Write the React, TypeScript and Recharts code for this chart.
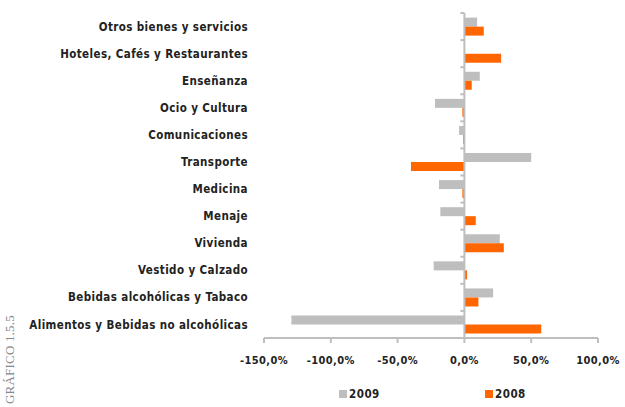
import { Bar, BarChart, Legend, ReferenceLine, XAxis, YAxis } from 'recharts'

const categories = [
  'Otros bienes  y servicios',
  'Hoteles, Cafés  y  Restaurantes',
  'Enseñanza',
  'Ocio y Cultura',
  'Comunicaciones',
  'Transporte',
  'Medicina',
  'Menaje',
  'Vivienda',
  'Vestido y  Calzado',
  'Bebidas alcohólicas y Tabaco',
  'Alimentos y Bebidas  no alcohólicas',
]

const values2009 = [9.5, 0, 11.5, -22, -4, 50, -19, -18, 26.5, -23, 21.5, -129.5]
const values2008 = [14.5, 27.5, 5.5, -1.5, -1, -40, -1.5, 8.5, 29.5, 2, 10.5, 57.5]

const xTicks = [-150, -100, -50, 0, 50, 100]

const GRAY = '#bebebe'
const ORANGE = '#ff6600'
const FONT = '"DejaVu Sans Condensed", "DejaVu Sans", sans-serif'

const data = categories.map((name, i) => ({
  name,
  y2009: values2009[i],
  y2008: values2008[i],
}))

const fmtPct = (v: number) => v.toFixed(1).replace('.', ',') + '%'

// zero line with the little category ticks on its left side
function ZeroLine(props: any) {
  const { x1, y1, x2, y2 } = props
  const n = categories.length
  const marks = []
  for (let i = 0; i <= n; i++) {
    const y = y1 + ((y2 - y1) * i) / n
    marks.push(<line key={i} x1={x1 - 4} x2={x1} y1={y} y2={y} stroke={GRAY} strokeWidth={2} />)
  }
  return (
    <g>
      <line x1={x1} y1={y1} x2={x2} y2={y2} stroke={GRAY} strokeWidth={2} />
      {marks}
    </g>
  )
}

function LegendBox() {
  const item = (left: number, color: string, label: string) => (
    <div style={{ position: 'absolute', left, top: 7, display: 'flex', alignItems: 'center' }}>
      <span style={{ width: 8, height: 8, background: color, display: 'inline-block', marginRight: 2 }} />
      <span style={{ fontFamily: FONT, fontWeight: 'bold', fontSize: 11.5, letterSpacing: 0.5, color: '#222' }}>
        {label}
      </span>
    </div>
  )
  return (
    <div style={{ position: 'relative', width: 625, height: 24 }}>
      {item(339, GRAY, '2009')}
      {item(485, ORANGE, '2008')}
    </div>
  )
}

export default function App() {
  return (
    <div style={{ position: 'absolute', left: 0, top: 0, width: 625, height: 407, background: '#fff' }}>
      <BarChart
        width={625}
        height={407}
        data={data}
        layout="vertical"
        margin={{ top: 13, right: 27, left: 0, bottom: 9 }}
        barCategoryGap="17%"
        barGap={0}
      >
        <XAxis
          type="number"
          domain={[-150, 100]}
          ticks={xTicks}
          tickFormatter={fmtPct}
          height={36}
          tickSize={5}
          tickMargin={13}
          axisLine={{ stroke: GRAY, strokeWidth: 2 }}
          tickLine={{ stroke: GRAY, strokeWidth: 2 }}
          tick={{ fill: '#222', fontSize: 11, fontWeight: 'bold', fontFamily: FONT, letterSpacing: 0.4 }}
        />
        <YAxis
          type="category"
          dataKey="name"
          width={264}
          axisLine={false}
          tickLine={false}
          tickSize={0}
          tickMargin={16}
          interval={0}
          tick={{ fill: '#222', fontSize: 11.5, fontWeight: 'bold', fontFamily: FONT, letterSpacing: 0.4 }}
        />
        <Bar dataKey="y2009" name="2009" fill={GRAY} isAnimationActive={false} />
        <Bar dataKey="y2008" name="2008" fill={ORANGE} isAnimationActive={false} />
        <ReferenceLine x={0} shape={ZeroLine} />
        <Legend
          verticalAlign="bottom"
          height={24}
          wrapperStyle={{ left: 0, bottom: 3, width: 625 }}
          content={() => <LegendBox />}
        />
      </BarChart>
      <div
        style={{
          position: 'absolute',
          left: -40,
          top: 346,
          width: 100,
          height: 16,
          lineHeight: '16px',
          transform: 'rotate(-90deg)',
          fontFamily: '"Liberation Serif", serif',
          fontSize: 13,
          color: '#888',
          letterSpacing: 0.2,
          whiteSpace: 'nowrap',
        }}
      >
        GRÁFICO 1.5.5
      </div>
    </div>
  )
}
